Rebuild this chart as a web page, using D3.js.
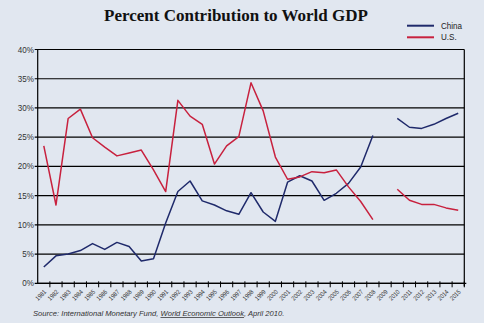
<!DOCTYPE html>
<html>
<head>
<meta charset="utf-8">
<script src="https://cdn.jsdelivr.net/npm/d3@7"></script>
<style>
  body { margin: 0; background: #e1e7f0; }
  svg { display: block; }
</style>
</head>
<body>
<div id="chart"></div>
<script>
// Percent contribution to world GDP, China vs U.S.
// values (null = no data, 2009 gap)
const years = d3.range(1981, 2016).map(String);
const china = [2.8, 4.7, 5.0, 5.6, 6.8, 5.8, 7.0, 6.3, 3.8, 4.2,
  10.3, 15.7, 17.5, 14.1, 13.4, 12.4, 11.8, 15.5, 12.2, 10.6,
  17.3, 18.4, 17.5, 14.2, 15.4, 17.1, 19.9, 25.3, null,
  28.2, 26.7, 26.5, 27.2, 28.2, 29.1];
const us = [23.5, 13.4, 28.2, 29.8, 24.9, 23.3, 21.8, 22.3, 22.8, 19.4,
  15.7, 31.3, 28.6, 27.2, 20.4, 23.5, 25.1, 34.3, 29.5, 21.6,
  17.8, 18.2, 19.1, 18.9, 19.4, 16.5, 14.0, 10.9, null,
  16.1, 14.2, 13.5, 13.5, 12.9, 12.5];
const yTicks = [0, 5, 10, 15, 20, 25, 30, 35, 40];
const seriesNames = ["China", "U.S."];
const seriesColors = ["#1f2a6b", "#c8213e"];

const W = 484, H = 323;
const margin = { top: 49.5, right: 20, bottom: 40, left: 37.7 };
const narrow = "'Liberation Sans Narrow', 'Liberation Sans', sans-serif";

const svg = d3.select("#chart")
  .append("svg")
  .attr("width", W)
  .attr("height", H);

const x = d3.scaleBand()
  .domain(years)
  .range([margin.left, 464.3])
  .padding(0);

const y = d3.scaleLinear()
  .domain([0, 40])
  .range([283.3, margin.top]);

// title
svg.append("text")
  .attr("x", 236)
  .attr("y", 21)
  .attr("text-anchor", "middle")
  .style("font-family", "'Liberation Serif', serif")
  .style("font-weight", "bold")
  .style("font-size", "17px")
  .attr("fill", "#111")
  .text("Percent Contribution to World GDP");

// gridlines
svg.append("g")
  .selectAll("line")
  .data(yTicks)
  .enter().append("line")
  .attr("x1", margin.left - 3)
  .attr("x2", x.range()[1])
  .attr("y1", d => y(d))
  .attr("y2", d => y(d))
  .attr("stroke", "#000")
  .attr("stroke-width", 1.2);

// y labels (squeezed a little to look condensed)
svg.append("g")
  .selectAll("text")
  .data(yTicks)
  .enter().append("text")
  .attr("transform", d => "translate(34," + (y(d) + 3) + ") scale(0.85,1)")
  .attr("text-anchor", "end")
  .style("font-family", narrow)
  .style("font-size", "9.5px")
  .attr("fill", "#333")
  .text(d => d + "%");

// left + right frame
svg.append("line")
  .attr("x1", margin.left).attr("x2", margin.left)
  .attr("y1", y(40)).attr("y2", y(0))
  .attr("stroke", "#000").attr("stroke-width", 1.2);
svg.append("line")
  .attr("x1", x.range()[1]).attr("x2", x.range()[1])
  .attr("y1", y(40)).attr("y2", y(0) + 3)
  .attr("stroke", "#000").attr("stroke-width", 1.2);

// x axis
const xAxis = svg.append("g")
  .attr("transform", "translate(0," + y(0) + ")");
xAxis.append("line")
  .attr("x1", margin.left).attr("x2", x.range()[1] + 2)
  .attr("stroke", "#000").attr("stroke-width", 1.2);
xAxis.selectAll(".tick")
  .data(years)
  .enter().append("line")
  .attr("x1", d => x(d) + x.bandwidth())
  .attr("x2", d => x(d) + x.bandwidth())
  .attr("y1", -2).attr("y2", 4)
  .attr("stroke", "#000");
xAxis.selectAll(".lbl")
  .data(years)
  .enter().append("text")
  .attr("transform", d => "translate(" + (x(d) + x.bandwidth() / 2 + 3) + ",9) rotate(-45) scale(0.85,1)")
  .attr("text-anchor", "end")
  .style("font-family", narrow)
  .style("font-size", "6.5px")
  .attr("fill", "#333")
  .text(d => d);

// lines
const line = d3.line()
  .defined(d => d.v != null)
  .x(d => x(d.year) + x.bandwidth() / 2)
  .y(d => y(d.v));

[china, us].forEach((vals, i) => {
  svg.append("path")
    .datum(years.map((yr, j) => ({ year: yr, v: vals[j] })))
    .attr("d", line)
    .attr("fill", "none")
    .attr("stroke", seriesColors[i])
    .attr("stroke-width", 1.5)
    .attr("stroke-linejoin", "round");
});

// legend
const legend = svg.append("g")
  .selectAll("g")
  .data(seriesNames)
  .enter().append("g")
  .attr("transform", (d, i) => "translate(407," + (25.7 + i * 11.6) + ")");
legend.append("line")
  .attr("x1", 0).attr("x2", 27)
  .attr("stroke", (d, i) => seriesColors[i])
  .attr("stroke-width", 2);
legend.append("text")
  .attr("transform", "translate(34,3) scale(0.85,1)")
  .style("font-family", narrow)
  .style("font-size", "9.5px")
  .attr("fill", "#222")
  .text(d => d);

// source note
const src = svg.append("text")
  .attr("x", 33)
  .attr("y", 316)
  .style("font-family", narrow)
  .style("font-style", "italic")
  .style("font-size", "7.6px")
  .attr("fill", "#333");
src.append("tspan").text("Source: International Monetary Fund, ");
src.append("tspan").style("text-decoration", "underline").text("World Economic Outlook");
src.append("tspan").text(", April 2010.");
</script>
</body>
</html>
